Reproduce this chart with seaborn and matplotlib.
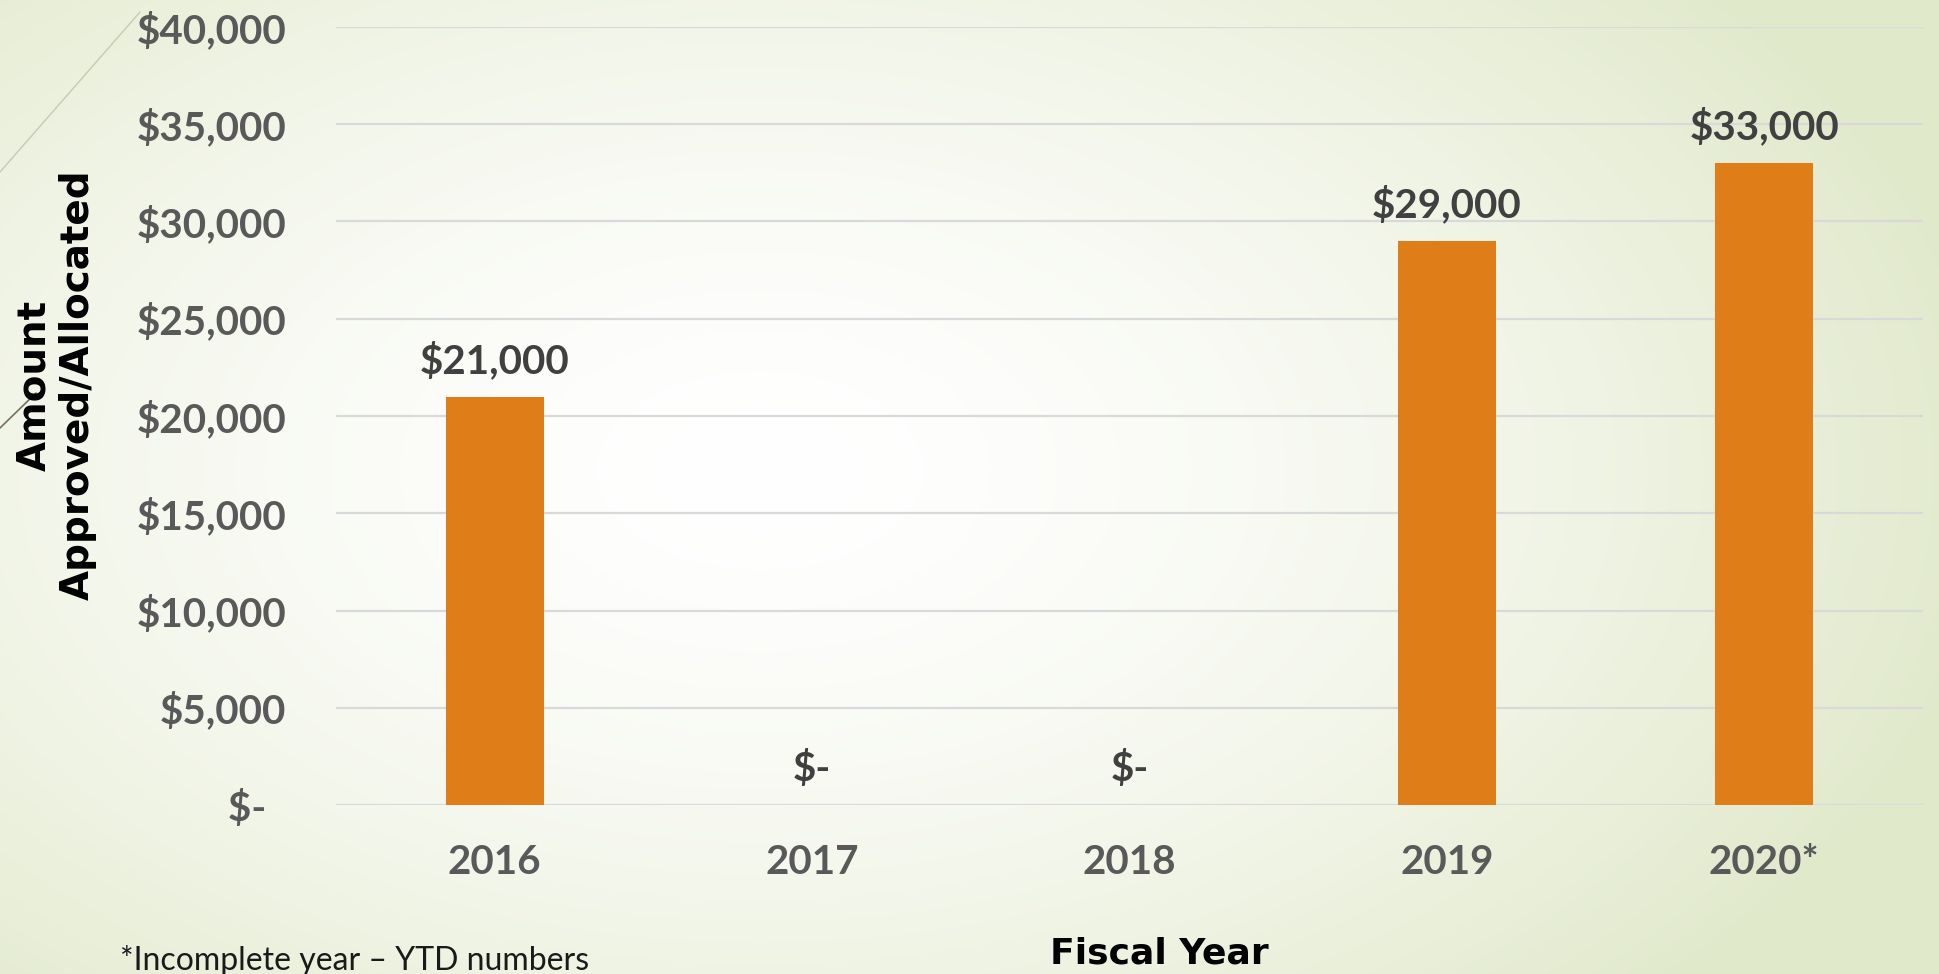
"""
Fiscal year funding chart - amount approved/allocated per year.
"""

import numpy as np
import matplotlib
matplotlib.use('Agg')
import matplotlib.pyplot as plt
from matplotlib.colors import to_rgb
from matplotlib.lines import Line2D
import seaborn as sns

# Data
YEARS = ['2016', '2017', '2018', '2019', '2020*']
AMOUNTS = [21000, 0, 0, 29000, 33000]
Y_TICKS = [0, 5000, 10000, 15000, 20000, 25000, 30000, 35000, 40000]

BAR_COLOR = '#DF7D19'
TICK_COLOR = '#595959'
LABEL_COLOR = '#404040'
GRID_COLOR = '#D9D9D9'


def money(v):
    if v == 0:
        return '$-'
    return f'${v:,.0f}'


def draw_background(fig):
    """Pale green slide background with a white radial glow."""
    bg = fig.add_axes([0, 0, 1, 1], zorder=-10)
    h, w = 974, 1939
    yy, xx = np.mgrid[0:h, 0:w]
    cx, cy = 760, 470
    r = np.sqrt(((xx - cx) / 1250.0) ** 2 + ((yy - cy) / 760.0) ** 2)
    t = np.clip(r, 0, 1) ** 1.6
    center = np.array(to_rgb('#FFFFFF'))
    edge = np.array(to_rgb('#E1E9CB'))
    img = center[None, None, :] * (1 - t[..., None]) + edge[None, None, :] * t[..., None]
    bg.imshow(img, aspect='auto', extent=[0, 1, 0, 1], origin='upper')
    bg.set_axis_off()

    # decorative theme strokes at the left edge
    fig.add_artist(Line2D([0, 140 / w], [1 - 172 / h, 1 - 12 / h],
                          color='#C6CAB2', lw=1.0, transform=fig.transFigure))
    fig.add_artist(Line2D([0, 36 / w], [1 - 428 / h, 1 - 393 / h],
                          color='#7A705A', lw=1.2, transform=fig.transFigure))


def main():
    sns.set_style('white')
    plt.rcParams['font.family'] = ['Lato', 'DejaVu Sans']

    fig = plt.figure(figsize=(19.39, 9.74), dpi=100)
    draw_background(fig)

    ax = fig.add_axes([0.1733, 0.1735, 0.8184, 0.7988])
    ax.set_facecolor('none')

    sns.barplot(x=YEARS, y=AMOUNTS, color=BAR_COLOR, saturation=1,
                width=0.31, linewidth=0, ax=ax, zorder=3)

    ax.set_ylim(0, 40000)
    ax.set_yticks(Y_TICKS)
    ax.set_yticklabels([money(v) + ('  ' if v == 0 else '') for v in Y_TICKS])
    ax.yaxis.grid(True, color=GRID_COLOR, lw=1.6, zorder=0)
    ax.xaxis.grid(False)
    for s in ax.spines.values():
        s.set_visible(False)

    ax.tick_params(axis='y', length=0, pad=36, labelsize=29,
                   labelcolor=TICK_COLOR)
    ax.tick_params(axis='x', length=0, pad=28, labelsize=29,
                   labelcolor=TICK_COLOR)
    for lbl in ax.get_xticklabels() + ax.get_yticklabels():
        lbl.set_fontweight('bold')

    # value labels above bars
    for i, v in enumerate(AMOUNTS):
        ax.annotate(money(v), xy=(i, v), xytext=(0, 12),
                    textcoords='offset points', ha='center', va='bottom',
                    fontsize=29, fontweight='bold', color=LABEL_COLOR)

    ax.set_xlabel('')
    ax.set_ylabel('')

    # axis titles
    fig.text(56 / 1939, 1 - 385 / 974, 'Amount\nApproved/Allocated',
             rotation=90, ha='center', va='center', fontsize=28,
             fontweight='bold', color='black', family='DejaVu Sans',
             linespacing=1.2)
    fig.text(1159 / 1939, 1 - 953 / 974, 'Fiscal Year', ha='center',
             va='center', fontsize=26, fontweight='bold', color='black',
             family='DejaVu Sans')
    fig.text(120 / 1939, 1 - 960 / 974, '*Incomplete year \u2013 YTD numbers',
             ha='left', va='center', fontsize=23, fontweight='normal',
             color='#1A1A1A')

    fig.savefig('out.png', dpi=100)
    plt.close(fig)


if __name__ == '__main__':
    main()
